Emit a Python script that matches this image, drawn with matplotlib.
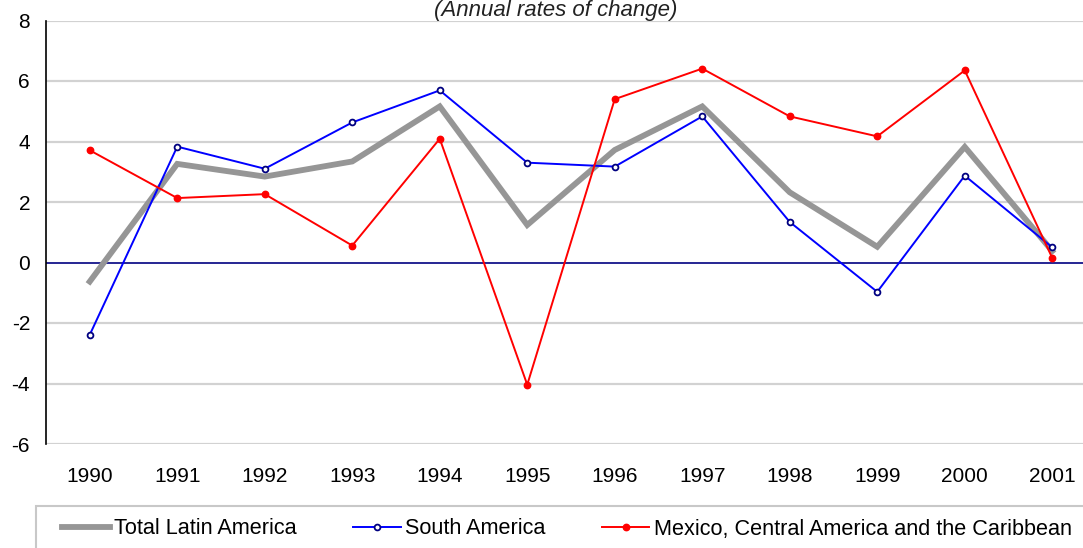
import matplotlib
matplotlib.use("Agg")
import matplotlib.pyplot as plt
from matplotlib.patches import Rectangle
import numpy as np

years = ["1990", "1991", "1992", "1993", "1994", "1995", "1996", "1997",
         "1998", "1999", "2000", "2001"]
total_latin_america = [-0.63, 3.26, 2.84, 3.34, 5.16, 1.24, 3.72, 5.16, 2.32, 0.52, 3.82, 0.38]
south_america = [-2.39, 3.83, 3.10, 4.63, 5.69, 3.30, 3.17, 4.83, 1.34, -0.97, 2.87, 0.50]
mexico_ca_caribbean = [3.71, 2.13, 2.26, 0.56, 4.09, -4.04, 5.40, 6.41, 4.83, 4.17, 6.35, 0.15]
y_ticks = [-6, -4, -2, 0, 2, 4, 6, 8]
series_labels = ["Total Latin America", "South America",
                 "Mexico, Central America and the Caribbean"]
title_text = "(Annual rates of change)"

plt.rcParams['font.family'] = ['Liberation Sans', 'DejaVu Sans']
plt.rcParams['axes.unicode_minus'] = False

W, H = 1083, 548
fig = plt.figure(figsize=(W / 100, H / 100), dpi=100)

left, right, top, bottom = 46, 1096, 20.5, 444
ax = fig.add_axes([left / W, 1 - bottom / H, (right - left) / W, (bottom - top) / H])

x = np.arange(len(years))

for yv in y_ticks:
    if yv == 0:
        continue
    ax.axhline(yv, color='#d2d2d2', lw=1.6, zorder=1)
ax.axhline(0, color='#000080', lw=1.2, zorder=2)

l1, = ax.plot(x, total_latin_america, color='#969696', lw=4.2, zorder=3,
              solid_joinstyle='miter', label=series_labels[0])
l2, = ax.plot(x, south_america, color='#0000ff', lw=1.4, zorder=4,
              marker='o', markersize=4.2, markerfacecolor='white',
              markeredgecolor='#000080', markeredgewidth=1.3, label=series_labels[1])
l3, = ax.plot(x, mexico_ca_caribbean, color='#ff0000', lw=1.4, zorder=5,
              marker='o', markersize=4.6, markerfacecolor='#ff0000',
              markeredgecolor='#ff0000', label=series_labels[2])

ax.set_xlim(-0.5, len(years) - 0.5)
ax.set_ylim(-6, 8)
ax.set_xticks(x)
ax.set_xticklabels(years)
ax.set_yticks(y_ticks)
ax.tick_params(axis='x', length=0, pad=16.5, labelsize=15)
ax.tick_params(axis='y', length=0, pad=11.5, labelsize=15)

for s in ['top', 'right', 'bottom']:
    ax.spines[s].set_visible(False)
ax.spines['left'].set_color('#000000')
ax.spines['left'].set_linewidth(1.2)
ax.spines['left'].set_zorder(6)

fig.text(556 / W, 1 - 16 / H, title_text, ha='center', va='baseline',
         fontsize=16, style='italic', color='#222222')

fig.patches.append(Rectangle((36 / W, -0.1), 1.2, (1 - 506 / H) + 0.1,
                             transform=fig.transFigure, fill=False,
                             edgecolor='#c8c8c8', lw=1.5))

fig.legend(handles=[l1, l2, l3], loc='center left',
           bbox_to_anchor=(62 / W, 1 - 529 / H), ncol=3, frameon=False,
           fontsize=15.6, handlelength=2.2, handletextpad=0.2,
           columnspacing=2.6, borderpad=0, borderaxespad=0)

fig.savefig("out.png", dpi=100)
